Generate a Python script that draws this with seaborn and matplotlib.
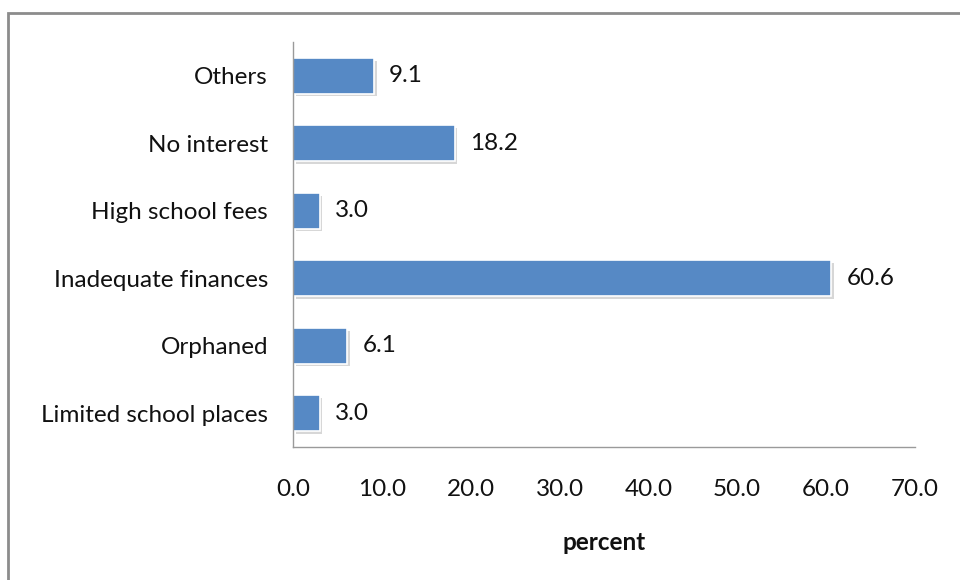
import matplotlib
matplotlib.use("Agg")
import matplotlib.pyplot as plt
import matplotlib.patheffects as pe
from matplotlib.patches import Rectangle
import pandas as pd
import seaborn as sns

reasons = ["Others", "No interest", "High school fees", "Inadequate finances",
           "Orphaned", "Limited school places"]
percent = [9.1, 18.2, 3.0, 60.6, 6.1, 3.0]
xticks = [0, 10, 20, 30, 40, 50, 60, 70]

df = pd.DataFrame({"Reason": reasons, "percent": percent})

sns.set_style("white")
plt.rcParams["font.family"] = ["Lato", "DejaVu Sans"]
fs = 17.5

fig = plt.figure(figsize=(9.6, 5.8), dpi=100)
ax = fig.add_axes([0.3052, 0.2293, 0.6478, 0.6983])

sns.barplot(data=df, x="percent", y="Reason", orient="h", color="#5689C5",
            saturation=1, width=0.53, edgecolor="white", linewidth=1.2, ax=ax)

# soft drop shadow like the original office chart
for bar in ax.patches:
    bar.set_path_effects([pe.SimplePatchShadow(offset=(2, -2), shadow_rgbFace="#b0b0b0", alpha=0.5),
                          pe.Normal()])

for bar, v in zip(ax.patches, percent):
    ax.text(bar.get_width() + 1.7, bar.get_y() + bar.get_height() / 2, f"{v:.1f}",
            va="center", ha="left", fontsize=fs, color="#111111")

ax.set_xlim(0, 70)
ax.set_ylim(5.5, -0.5)
ax.set_xticks(xticks)
ax.set_xticklabels([f"{t:.1f}" for t in xticks], fontsize=fs)
ax.tick_params(axis="x", pad=23, length=0, colors="#111111")
ax.tick_params(axis="y", pad=18, length=0, labelsize=fs, colors="#111111")
ax.set_xlabel("percent", fontsize=fs, fontweight="bold", labelpad=22, color="#111111")
ax.set_ylabel("")

for s in ["top", "right"]:
    ax.spines[s].set_visible(False)
for s in ["left", "bottom"]:
    ax.spines[s].set_color("#9a9a9a")
    ax.spines[s].set_linewidth(1)

# outer chart frame
fig.patches.append(Rectangle((8 / 960, -0.01), 1.0, 1 - 13 / 580 + 0.01,
                             transform=fig.transFigure, fill=False,
                             edgecolor="#8c8c8c", linewidth=2))

fig.savefig("out.png", dpi=100)
